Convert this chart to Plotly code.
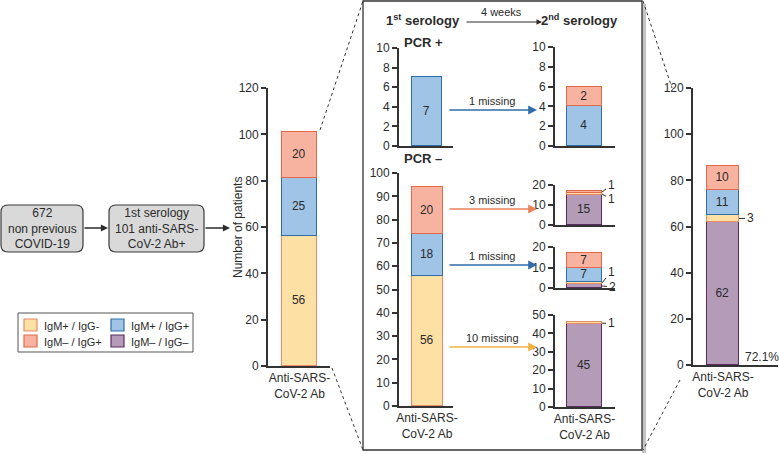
import plotly.graph_objects as go

W, H = 779, 454
FONT = "Arial, Liberation Sans, sans-serif"
INK = "#2b2b2b"

FILL = {
    "IgM+ / IgG-": "#fde0a3",
    "IgM+ / IgG+": "#9fc4e6",
    "IgM– / IgG+": "#f8b3a0",
    "IgM– / IgG–": "#b49bb8",
}
EDGE = {
    "IgM+ / IgG-": "#e88a68",
    "IgM+ / IgG+": "#2f6ea8",
    "IgM– / IgG+": "#e4684a",
    "IgM– / IgG–": "#5b2c5f",
}

# stacks, bottom to top
all_1st_cats = ["IgM+ / IgG-", "IgM+ / IgG+", "IgM– / IgG+"]
all_1st_vals = [56, 25, 20]

pos_1st_cats = ["IgM+ / IgG+"]
pos_1st_vals = [7]
pos_2nd_cats = ["IgM+ / IgG+", "IgM– / IgG+"]
pos_2nd_vals = [4, 2]

neg_1st_cats = ["IgM+ / IgG-", "IgM+ / IgG+", "IgM– / IgG+"]
neg_1st_vals = [56, 18, 20]
neg_a_cats = ["IgM– / IgG–", "IgM+ / IgG-", "IgM– / IgG+"]
neg_a_vals = [15, 1, 1]
neg_b_cats = ["IgM– / IgG–", "IgM+ / IgG-", "IgM+ / IgG+", "IgM– / IgG+"]
neg_b_vals = [2, 1, 7, 7]
neg_c_cats = ["IgM– / IgG–", "IgM+ / IgG-"]
neg_c_vals = [45, 1]

all_2nd_cats = ["IgM– / IgG–", "IgM+ / IgG-", "IgM+ / IgG+", "IgM– / IgG+"]
all_2nd_vals = [62, 3, 11, 10]

missing_labels = ["1 missing", "3 missing", "1 missing", "10 missing"]
missing_colors = ["#2f6ea8", "#e8825a", "#2f6ea8", "#f2b440"]
missing_y = [110, 209, 265, 347]

XLABEL = "Anti-SARS-<br>CoV-2 Ab"

# panel: stack, axis px box (x0, x1, ytop, ybottom), bar centre/width px, ymax, dtick, xlabel
panels = [
    (all_1st_cats, all_1st_vals, (268, 330, 88, 366), (299.5, 35), 120, 20, True),
    (pos_1st_cats, pos_1st_vals, (399, 453, 48, 146), (427, 30), 10, 2, False),
    (pos_2nd_cats, pos_2nd_vals, (555, 615, 47, 146), (584.5, 35), 10, 2, False),
    (neg_1st_cats, neg_1st_vals, (399, 453, 173, 406), (427, 31), 100, 10, True),
    (neg_a_cats, neg_a_vals, (555, 615, 185, 225), (584.5, 35), 20, 10, False),
    (neg_b_cats, neg_b_vals, (555, 615, 247, 288), (584.5, 35), 20, 10, False),
    (neg_c_cats, neg_c_vals, (555, 615, 315, 407), (584.5, 35), 50, 10, True),
    (all_2nd_cats, all_2nd_vals, (693, 778, 88, 365), (723, 32), 120, 20, True),
]

BW = 0.6


def px(x):
    return x / W


def py(y):
    return 1 - y / H


fig = go.Figure()
layout = {}
for i, (cats, vals, box, bar, ymax, dtick, xlab) in enumerate(panels, start=1):
    sfx = "" if i == 1 else str(i)
    x0, x1, yt, yb = box
    c, wpx = bar
    s = wpx / BW
    hpx = (yb - yt) / ymax
    for cat, v in zip(cats, vals):
        fig.add_trace(go.Bar(
            x=[0], y=[v], width=BW,
            xaxis="x" + sfx, yaxis="y" + sfx,
            marker=dict(color=FILL[cat], line=dict(color=EDGE[cat], width=1.5)),
            text=[str(v) if v * hpx >= 12 else ""],
            textposition="inside", insidetextanchor="middle",
            textangle=0, constraintext="none",
            textfont=dict(size=12, color=INK, family=FONT),
            showlegend=False, hoverinfo="skip",
        ))
    layout["xaxis" + sfx] = dict(
        domain=[px(x0), px(x1)], range=[(x0 - c) / s, (x1 - c) / s],
        anchor="y" + sfx, showline=True, linecolor="#333", linewidth=1.8,
        showgrid=False, zeroline=False, ticks="", automargin=False,
        tickvals=[0] if xlab else [], ticktext=[XLABEL] if xlab else [],
        tickfont=dict(size=12, color=INK, family=FONT), fixedrange=True,
    )
    layout["yaxis" + sfx] = dict(
        domain=[py(yb), py(yt)], range=[0, ymax], dtick=dtick,
        anchor="x" + sfx, showline=True, linecolor="#333", linewidth=1.8,
        showgrid=False, zeroline=False, ticks="outside", ticklen=5,
        tickwidth=1.5, tickcolor="#333", automargin=False,
        tickfont=dict(size=12, color=INK, family=FONT), fixedrange=True,
    )

shapes = []
annotations = []


def txt(x, y, t, size=12, bold=False, xanchor="center"):
    annotations.append(dict(
        x=px(x), y=py(y), xref="paper", yref="paper", text=f"<b>{t}</b>" if bold else t,
        showarrow=False, xanchor=xanchor, yanchor="middle",
        font=dict(size=size, color=INK, family=FONT)))


def arrow(xt, xh, y, color=INK, width=1.3):
    annotations.append(dict(
        x=px(xh), y=py(y), xref="paper", yref="paper", ax=xt - xh, ay=0,
        axref="pixel", ayref="pixel", text="", showarrow=True, arrowhead=2,
        arrowsize=1.1, arrowwidth=width, arrowcolor=color))


def dotted(xa, ya, xb, yb):
    shapes.append(dict(type="line", xref="paper", yref="paper",
                       x0=px(xa), y0=py(ya), x1=px(xb), y1=py(yb),
                       line=dict(color="#333", width=1, dash="dot")))


def rounded(x0, y0, x1, y1, r=7):
    X0, X1, Y0, Y1 = px(x0), px(x1), py(y0), py(y1)
    rx, ry = r / W, r / H
    path = (f"M {X0+rx},{Y0} L {X1-rx},{Y0} Q {X1},{Y0} {X1},{Y0-ry} "
            f"L {X1},{Y1+ry} Q {X1},{Y1} {X1-rx},{Y1} L {X0+rx},{Y1} "
            f"Q {X0},{Y1} {X0},{Y1+ry} L {X0},{Y0-ry} Q {X0},{Y0} {X0+rx},{Y0} Z")
    shapes.append(dict(type="path", path=path, xref="paper", yref="paper",
                       fillcolor="#d9d9d9", line=dict(color="#3a3a3a", width=1.2)))


# flow boxes on the left
rounded(1, 205, 83, 252)
rounded(109, 205, 204, 252)
txt(42, 228.5, "672<br>non previous<br>COVID-19", size=12)
txt(156.5, 228.5, "1st serology<br>101 anti-SARS-<br>CoV-2 Ab+", size=12)
arrow(83, 108, 228)
arrow(204, 230, 228)

# legend
shapes.append(dict(type="rect", xref="paper", yref="paper", x0=px(18), x1=px(193),
                   y0=py(313), y1=py(352), line=dict(color="#555", width=1),
                   fillcolor="white"))
leg_pos = {
    "IgM+ / IgG-": (24, 319), "IgM+ / IgG+": (111, 319),
    "IgM– / IgG+": (24, 335), "IgM– / IgG–": (111, 335),
}
for cat, (lx, ly) in leg_pos.items():
    shapes.append(dict(type="rect", xref="paper", yref="paper", x0=px(lx), x1=px(lx + 13),
                       y0=py(ly), y1=py(ly + 12), fillcolor=FILL[cat],
                       line=dict(color=EDGE[cat], width=1.2)))
    txt(lx + 18, ly + 6.5, cat, size=11, xanchor="left")

# left axis title
annotations.append(dict(x=px(238), y=py(227), xref="paper", yref="paper",
                        text="Number of patients", textangle=-90, showarrow=False,
                        xanchor="center", yanchor="middle",
                        font=dict(size=12, color=INK, family=FONT)))

# centre box with shadow
shapes.append(dict(type="rect", xref="paper", yref="paper", x0=px(642), x1=px(646),
                   y0=py(4), y1=py(453), fillcolor="#c4c4c4", line=dict(width=0)))
shapes.append(dict(type="rect", xref="paper", yref="paper", x0=px(363), x1=px(642),
                   y0=py(1), y1=py(450), line=dict(color="#333", width=1.3)))

# zoom lines
dotted(320, 130, 363, 1)
dotted(332, 368, 363, 450)
dotted(643, 1, 672, 88)
dotted(680, 380, 643, 450)

# headings
txt(423, 20, "1<sup>st</sup> serology", size=13, bold=True)
txt(579, 20, "2<sup>nd</sup> serology", size=13, bold=True)
arrow(465, 542, 22, width=1)
txt(502, 12, "4 weeks", size=11)
txt(423, 42, "PCR +", size=13, bold=True)
txt(423, 158, "PCR –", size=13, bold=True)

# missing arrows
for lab, col, y in zip(missing_labels, missing_colors, missing_y):
    arrow(448, 537, y, color=col, width=1.6)
    txt(492, y - 9, lab, size=11)

# leader labels for thin segments: (axis suffix, y, text, dx, dy)
leaders = [
    ("5", 16.5, "1", 9, -7),
    ("5", 15.5, "1", 9, 5),
    ("6", 2.5, "1", 9, -11),
    ("6", 1.0, "2", 10, 1),
    ("7", 45.5, "1", 9, 0),
    ("8", 63.5, "3", 11, 0),
]
for ax_id, yv, t, dx, dy in leaders:
    annotations.append(dict(x=BW / 2, y=yv, xref="x" + ax_id, yref="y" + ax_id,
                            text=t, showarrow=True, arrowhead=0, arrowwidth=1,
                            arrowcolor=INK, ax=dx, ay=dy, standoff=0,
                            font=dict(size=12, color=INK, family=FONT)))

txt(762, 357, "72.1%", size=12)

fig.update_layout(
    width=W, height=H, margin=dict(l=0, r=0, t=0, b=0, autoexpand=False),
    paper_bgcolor="white", plot_bgcolor="rgba(0,0,0,0)",
    barmode="stack", bargap=0, showlegend=False,
    shapes=shapes, annotations=annotations, **layout,
)
fig.write_html("out.html", config={"displayModeBar": False},
               post_script="document.body.style.margin='0';")
